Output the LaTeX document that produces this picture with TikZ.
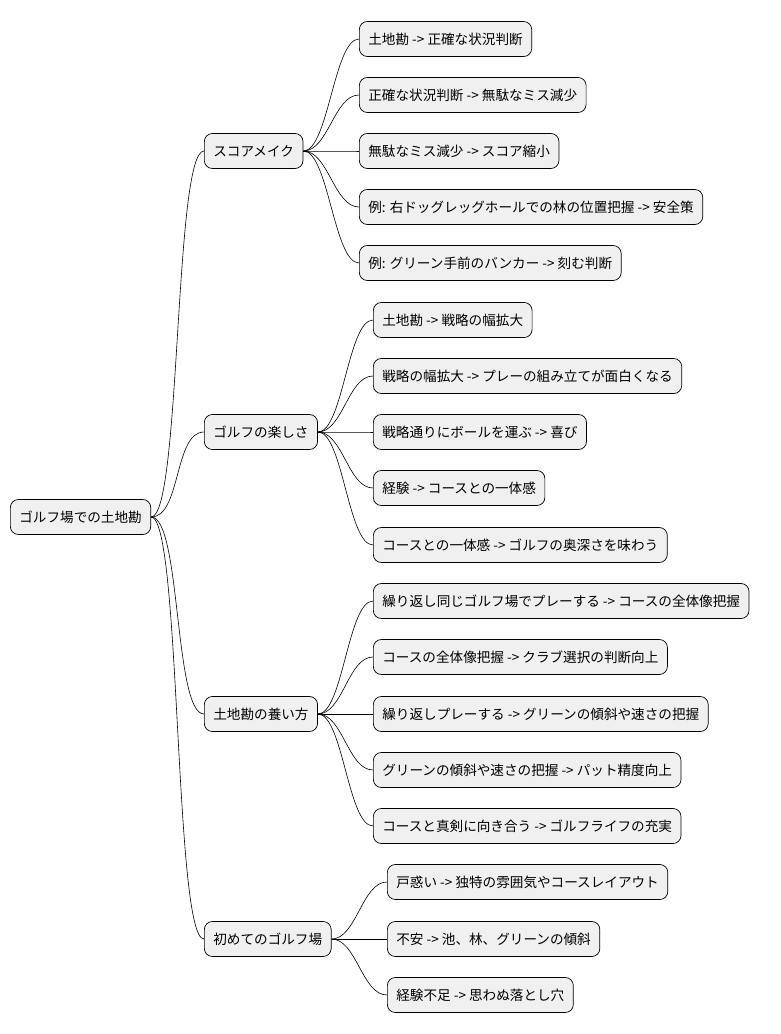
\documentclass[tikz,border=0pt]{standalone}
\usepackage{fontspec}
\setmainfont{Noto Sans CJK JP}
\begin{document}
\begin{tikzpicture}[x=1pt,y=-1pt,
  box/.style={draw=black,fill=black!6,rounded corners=8pt,minimum height=35pt,inner xsep=9pt,font=\fontsize{13.6}{16}\selectfont,anchor=west,line width=0.7pt},
  link/.style={draw=black,line width=0.6pt}]
\useasboundingbox (0,0) rectangle (780,1034);
\node[box] (r) at (10,517) {ゴルフ場での土地勘};
\node[box] (a) at (204,151) {スコアメイク};
\node[box] (b) at (204,432) {ゴルフの楽しさ};
\node[box] (c) at (204,714) {土地勘の養い方};
\node[box] (d) at (204,939) {初めてのゴルフ場};
\foreach \n in {a,b,c,d} \draw[link] (r.east) .. controls +(30,0) and +(-30,0) .. (\n.west);
\node[box] (a1) at (359,39) {土地勘 -> 正確な状況判断};
\node[box] (a2) at (359,95) {正確な状況判断 -> 無駄なミス減少};
\node[box] (a3) at (359,151) {無駄なミス減少 -> スコア縮小};
\node[box] (a4) at (359,207) {例: 右ドッグレッグホールでの林の位置把握 -> 安全策};
\node[box] (a5) at (359,263) {例: グリーン手前のバンカー -> 刻む判断};
\node[box] (b1) at (373,320) {土地勘 -> 戦略の幅拡大};
\node[box] (b2) at (373,376) {戦略の幅拡大 -> プレーの組み立てが面白くなる};
\node[box] (b3) at (373,432) {戦略通りにボールを運ぶ -> 喜び};
\node[box] (b4) at (373,488) {経験 -> コースとの一体感};
\node[box] (b5) at (373,545) {コースとの一体感 -> ゴルフの奥深さを味わう};
\node[box] (c1) at (373,601) {繰り返し同じゴルフ場でプレーする -> コースの全体像把握};
\node[box] (c2) at (373,657) {コースの全体像把握 -> クラブ選択の判断向上};
\node[box] (c3) at (373,714) {繰り返しプレーする -> グリーンの傾斜や速さの把握};
\node[box] (c4) at (373,770) {グリーンの傾斜や速さの把握 -> パット精度向上};
\node[box] (c5) at (373,826) {コースと真剣に向き合う -> ゴルフライフの充実};
\node[box] (d1) at (387,882) {戸惑い -> 独特の雰囲気やコースレイアウト};
\node[box] (d2) at (387,939) {不安 -> 池、林、グリーンの傾斜};
\node[box] (d3) at (387,995) {経験不足 -> 思わぬ落とし穴};
\foreach \p/\l in {a/{a1,a2,a3,a4,a5},b/{b1,b2,b3,b4,b5},c/{c1,c2,c3,c4,c5},d/{d1,d2,d3}}
  \foreach \n in \l \draw[link] (\p.east) .. controls +(25,0) and +(-25,0) .. (\n.west);
\end{tikzpicture}
\end{document}
